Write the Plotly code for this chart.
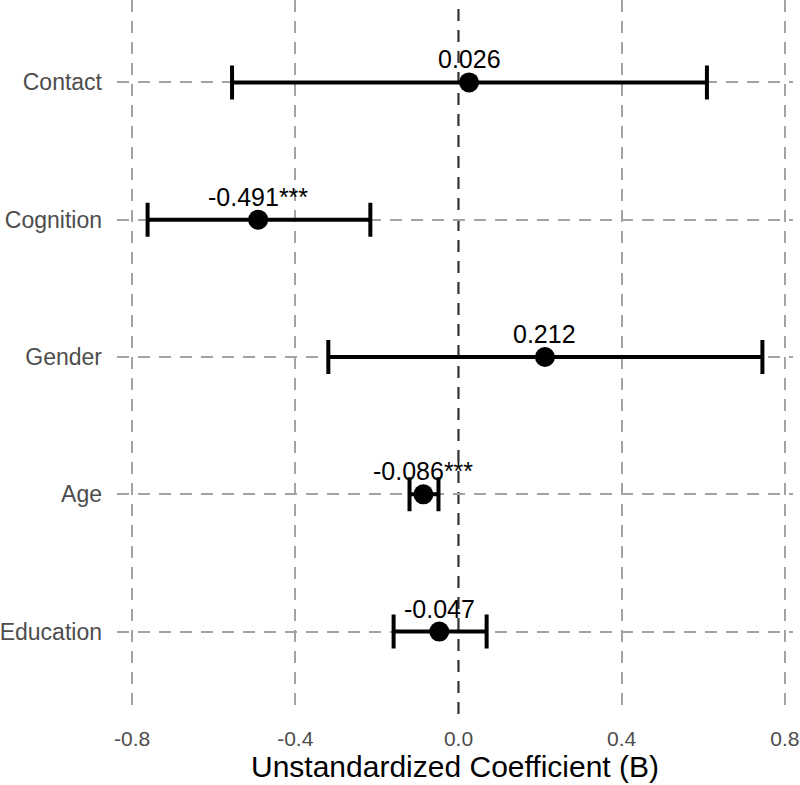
import plotly.graph_objects as go

categories = ["Contact", "Cognition", "Gender", "Age", "Education"]
estimates = [0.026, -0.491, 0.212, -0.086, -0.047]
ci_low = [-0.555, -0.762, -0.319, -0.120, -0.159]
ci_high = [0.609, -0.216, 0.745, -0.049, 0.069]
labels = ["0.026", "-0.491***", "0.212", "-0.086***", "-0.047"]
x_ticks = [-0.8, -0.4, 0.0, 0.4, 0.8]
x_ticklabels = ["-0.8", "-0.4", "0.0", "0.4", "0.8"]

err_plus = [h - e for h, e in zip(ci_high, estimates)]
err_minus = [e - l for e, l in zip(estimates, ci_low)]

FONT = "Liberation Sans, Arial, sans-serif"
GRID = "#A3A3A3"
DASH = "12px,9px"

fig = go.Figure()
fig.add_trace(go.Scatter(
    x=estimates, y=categories,
    mode="markers",
    marker=dict(color="black", size=20),
    error_x=dict(type="data", symmetric=False, array=err_plus, arrayminus=err_minus,
                 color="black", thickness=4, width=17),
    showlegend=False,
    cliponaxis=False,
))

for xv, yv, t in zip(estimates, categories, labels):
    fig.add_annotation(x=xv, y=yv, text=t, showarrow=False, yshift=23,
                       xanchor="center", yanchor="middle",
                       font=dict(family=FONT, size=25, color="black"))

fig.add_vline(x=0, line=dict(color="#333333", width=2.2, dash=DASH), layer="below")

grid_vals = [v for v in x_ticks if v != 0]

fig.update_layout(
    width=800, height=785,
    margin=dict(l=117, r=7, t=0, b=71),
    paper_bgcolor="white", plot_bgcolor="white",
    font=dict(family=FONT),
    xaxis=dict(
        range=[-0.837, 0.82],
        tickvals=x_ticks, ticktext=x_ticklabels,
        showgrid=False,
        minor=dict(tickvals=grid_vals, showgrid=True, gridcolor=GRID, gridwidth=2,
                   griddash=DASH, ticks=""),
        zeroline=False, showline=False, ticks="",
        tickfont=dict(family=FONT, size=21, color="#4D4D4D"),
        ticklabelstandoff=10,
        title=dict(text="Unstandardized Coefficient (B)",
                   font=dict(family=FONT, size=30, color="black"), standoff=2),
        automargin=False,
    ),
    yaxis=dict(
        categoryorder="array", categoryarray=categories[::-1],
        range=[-0.6, 4.6],
        showgrid=True, gridcolor=GRID, gridwidth=2, griddash=DASH,
        zeroline=False, showline=False, ticks="",
        tickfont=dict(family=FONT, size=23, color="#4D4D4D"),
        ticklabelstandoff=14,
        automargin=False,
    ),
)

fig.write_html("out.html")
